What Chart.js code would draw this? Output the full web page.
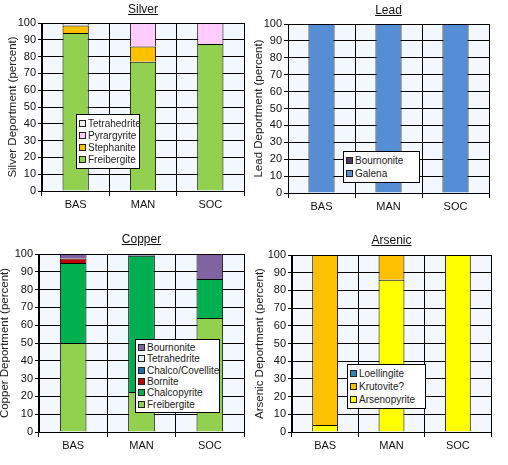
<!DOCTYPE html>
<html>
<head>
<meta charset="utf-8">
<script src="https://cdn.jsdelivr.net/npm/chart.js@4/dist/chart.umd.min.js"></script>
<style>
  body { margin: 0; background: #fff; width: 508px; height: 465px; overflow: hidden; position: relative; font-family: "Liberation Sans", Arial, sans-serif; }
  .panel { position: absolute; }
  .titre { position: absolute; font-size: 12px; text-decoration: underline; color: #111; transform: translateX(-50%); white-space: nowrap; }
  .legende { position: absolute; background: #fff; border: 1px solid #000; font-size: 10px; color: #222; box-sizing: border-box; padding: 2px 2px; }
  .legende div { display: flex; align-items: center; white-space: nowrap; }
  .legende span.carre { flex: 0 0 auto; display: inline-block; width: 5px; height: 5px; border: 1px solid #222; margin-right: 2px; }
</style>
</head>
<body>

<script>
const categories = ["BAS", "MAN", "SOC"];

// Silver
const silverSeries = ["Freibergite", "Stephanite", "Pyrargyrite", "Tetrahedrite"];
const silverFreibergite = [94, 77, 87.5];
const silverStephanite = [4.5, 9, 0];
const silverPyrargyrite = [0, 14, 12.5];
const silverTetrahedrite = [1.5, 0, 0];

// Lead
const leadSeries = ["Galena", "Bournonite"];
const leadGalena = [100, 100, 100];
const leadBournonite = [0, 0, 0];

// Copper
const copperSeries = ["Freibergite", "Chalcopyrite", "Bornite", "Chalco/Covellite", "Tetrahedrite", "Bournonite"];
const copperFreibergite = [50, 22.5, 64];
const copperChalcopyrite = [45, 76.5, 22];
const copperBornite = [2.5, 0, 0];
const copperChalcoCovellite = [0, 0, 0];
const copperTetrahedrite = [0, 0, 0];
const copperBournonite = [2.5, 1, 14];

// Arsenic
const arsenicSeries = ["Arsenopyrite", "Krutovite?", "Loellingite"];
const arsenicArsenopyrite = [4, 86, 100];
const arsenicKrutovite = [96, 14, 0];
const arsenicLoellingite = [0, 0, 0];

const yTicks = [0, 10, 20, 30, 40, 50, 60, 70, 80, 90, 100];

// fond du graphique
const fondPlot = {
    id: "fondPlot",
    beforeDraw(chart) {
        const a = chart.chartArea;
        const ctx = chart.ctx;
        ctx.save();
        ctx.fillStyle = "#F3F8FE";
        ctx.fillRect(a.left, a.top, a.right - a.left, a.bottom - a.top);
        ctx.restore();
    }
};

function creerPanneau(cfg) {
    const div = document.createElement("div");
    div.className = "panel";
    div.style.left = cfg.panel[0] + "px";
    div.style.top = cfg.panel[1] + "px";
    div.style.width = cfg.panel[2] + "px";
    div.style.height = cfg.panel[3] + "px";
    const canvas = document.createElement("canvas");
    div.appendChild(canvas);
    document.body.appendChild(div);

    const [px, py, pw, ph] = cfg.panel;
    const [L, T, R, B] = cfg.plot;
    const xHeight = 22;

    new Chart(canvas.getContext("2d"), {
        type: "bar",
        data: {
            labels: categories,
            datasets: cfg.series.map((nom, i) => ({
                label: nom,
                // les segments nuls ne sont pas dessinés
                data: cfg.data[i].map(v => (v === 0 ? null : v)),
                backgroundColor: cfg.colors[i],
                borderColor: "#000",
                borderWidth: 1,
                borderSkipped: "bottom",
                categoryPercentage: 1,
                barPercentage: 0.39
            }))
        },
        options: {
            responsive: true,
            maintainAspectRatio: false,
            animation: false,
            layout: {
                padding: { left: 0, top: T - py, right: px + pw - R, bottom: ph - (B - py) - xHeight }
            },
            plugins: { legend: { display: false }, tooltip: { enabled: false } },
            scales: {
                x: {
                    stacked: true,
                    grid: { color: "#000", lineWidth: 1, tickLength: 5, offset: true },
                    border: { color: "#000" },
                    ticks: { color: "#111", font: { family: "Liberation Sans", size: 11 }, padding: 2 },
                    afterFit(scale) { scale.height = xHeight; }
                },
                y: {
                    stacked: true,
                    min: 0,
                    max: 100,
                    afterBuildTicks(scale) { scale.ticks = yTicks.map(v => ({ value: v })); },
                    grid: { color: "#000", lineWidth: 1, tickLength: 4 },
                    border: { color: "#000" },
                    ticks: { color: "#111", font: { family: "Liberation Sans", size: 11 }, padding: 2 },
                    title: {
                        display: true,
                        text: cfg.yTitle,
                        color: "#222",
                        font: { family: "Liberation Sans", size: 11.5 },
                        padding: { top: cfg.titlePad, bottom: 0 }
                    },
                    afterFit(scale) { scale.width = L - px; }
                }
            }
        },
        plugins: [fondPlot]
    });

    // titre souligné
    const titre = document.createElement("div");
    titre.className = "titre";
    titre.textContent = cfg.title;
    titre.style.left = ((L + R) / 2) + "px";
    titre.style.top = cfg.titleY + "px";
    document.body.appendChild(titre);

    // légende (ordre inversé comme Excel)
    const leg = document.createElement("div");
    leg.className = "legende";
    leg.style.left = cfg.legend[0] + "px";
    leg.style.top = cfg.legend[1] + "px";
    leg.style.width = cfg.legend[2] + "px";
    leg.style.height = cfg.legend[3] + "px";
    const lh = (cfg.legend[3] - 6) / cfg.series.length;
    for (let i = cfg.series.length - 1; i >= 0; i--) {
        const item = document.createElement("div");
        item.style.height = lh + "px";
        const sq = document.createElement("span");
        sq.className = "carre";
        sq.style.background = cfg.colors[i];
        item.appendChild(sq);
        item.appendChild(document.createTextNode(cfg.series[i]));
        leg.appendChild(item);
    }
    document.body.appendChild(leg);
}

creerPanneau({
    panel: [0, 0, 254, 232], plot: [42, 23, 244, 191], titleY: 2, titlePad: 5.5,
    title: "Silver", yTitle: "Silver Deportment (percent)",
    series: silverSeries,
    data: [silverFreibergite, silverStephanite, silverPyrargyrite, silverTetrahedrite],
    colors: ["#92D050", "#FFC000", "#FFCCFF", "#E8EFF8"],
    legend: [76, 114, 64, 55]
});

creerPanneau({
    panel: [254, 0, 254, 232], plot: [288, 24, 489, 193], titleY: 3, titlePad: -2.5,
    title: "Lead", yTitle: "Lead Deportment (percent)",
    series: leadSeries,
    data: [leadGalena, leadBournonite],
    colors: ["#558ED5", "#4B3A66"],
    legend: [343, 151, 77, 32]
});

creerPanneau({
    panel: [0, 232, 254, 233], plot: [39, 254, 244, 432], titleY: 232, titlePad: -2,
    title: "Copper", yTitle: "Copper Deportment (percent)",
    series: copperSeries,
    data: [copperFreibergite, copperChalcopyrite, copperBornite, copperChalcoCovellite, copperTetrahedrite, copperBournonite],
    colors: ["#92D050", "#00B050", "#C00000", "#1F6FA8", "#E8EFF8", "#8064A2"],
    legend: [135, 339, 85, 74]
});

creerPanneau({
    panel: [254, 232, 254, 233], plot: [292, 255, 491, 432], titleY: 233, titlePad: -1.5,
    title: "Arsenic", yTitle: "Arsenic Deportment (percent)",
    series: arsenicSeries,
    data: [arsenicArsenopyrite, arsenicKrutovite, arsenicLoellingite],
    colors: ["#FFFF00", "#FFC000", "#2F86B8"],
    legend: [347, 364, 79, 45]
});
</script>
</body>
</html>
